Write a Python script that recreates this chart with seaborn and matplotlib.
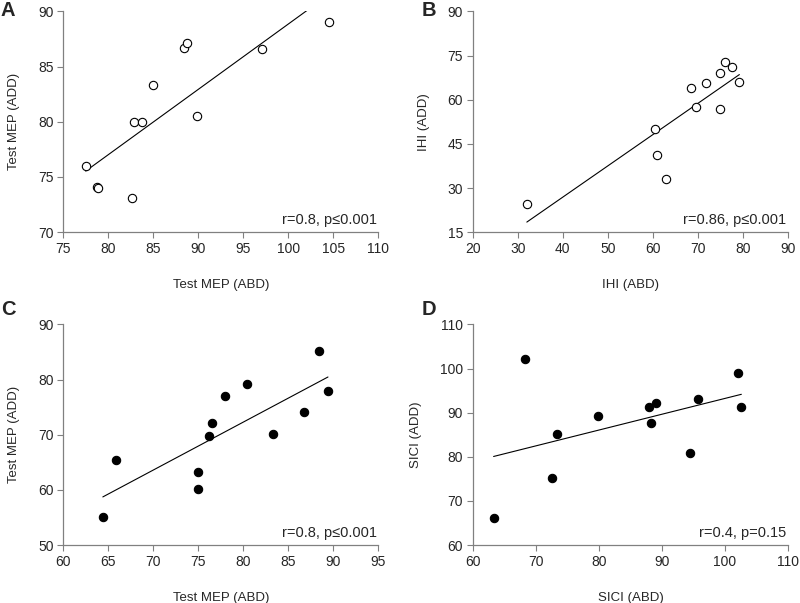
import numpy as np
import pandas as pd
import seaborn as sns
import matplotlib.pyplot as plt

# panel A: test MEP, open circles
a_x = [77.5, 78.7, 78.9, 82.6, 82.9, 83.7, 85.0, 88.4, 88.75, 89.9, 97.1, 104.55]
a_y = [76.0, 74.1, 74.0, 73.1, 80.0, 80.0, 83.3, 86.7, 87.1, 80.5, 86.6, 89.0]
# panel B: IHI, open circles
b_x = [32.0, 60.4, 60.9, 62.9, 68.5, 69.5, 71.8, 75.0, 75.0, 76.0, 77.5, 79.2]
b_y = [24.5, 50.1, 41.1, 33.1, 64.0, 57.6, 65.8, 69.1, 56.9, 72.7, 71.1, 66.1]
# panel C: test MEP, filled
c_x = [64.4, 65.9, 75.0, 74.95, 76.2, 76.5, 77.95, 80.4, 83.3, 86.7, 88.35, 89.4]
c_y = [55.1, 65.35, 63.2, 60.15, 69.7, 72.2, 77.1, 79.2, 70.2, 74.1, 85.2, 77.85]
# panel D: SICI, filled
d_x = [63.3, 68.3, 72.5, 73.4, 79.9, 88.0, 88.3, 89.1, 94.4, 95.7, 102.0, 102.6]
d_y = [66.2, 102.1, 75.2, 85.2, 89.2, 91.4, 87.6, 92.2, 80.8, 93.2, 99.1, 91.2]

panels = [
    ("A", a_x, a_y, "Test MEP (ABD)", "Test MEP (ADD)", (75, 110, 5), (70, 90, 5), "white", "r=0.8, p\u22640.001"),
    ("B", b_x, b_y, "IHI (ABD)", "IHI (ADD)", (20, 90, 10), (15, 90, 15), "white", "r=0.86, p\u22640.001"),
    ("C", c_x, c_y, "Test MEP (ABD)", "Test MEP (ADD)", (60, 95, 5), (50, 90, 10), "black", "r=0.8, p\u22640.001"),
    ("D", d_x, d_y, "SICI (ABD)", "SICI (ADD)", (60, 110, 10), (60, 110, 10), "black", "r=0.4, p=0.15"),
]

sns.set_style("ticks")
plt.rcParams['font.family'] = ['Liberation Sans', 'DejaVu Sans']

fig = plt.figure(figsize=(8.0, 6.03), dpi=100)
boxes = [(0.079, 0.615), (0.591, 0.615), (0.079, 0.096), (0.591, 0.096)]
letter_pos = [(0.001, 0.982), (0.527, 0.982), (0.001, 0.486), (0.527, 0.486)]

for (name, xs, ys, xl, yl, xr, yr, fc, note), (l, b), (lx, ly) in zip(panels, boxes, letter_pos):
    ax = fig.add_axes([l, b, 0.394, 0.366])
    df = pd.DataFrame({"x": xs, "y": ys})
    sns.regplot(data=df, x="x", y="y", ci=None, ax=ax,
                scatter_kws=dict(s=36, facecolor=fc, edgecolor="black", linewidths=0.8, alpha=1, zorder=3),
                line_kws=dict(color="black", lw=0.8, zorder=2))
    ax.set_xlim(xr[0], xr[1])
    ax.set_ylim(yr[0], yr[1])
    ax.set_xticks(np.arange(xr[0], xr[1] + 0.1, xr[2]))
    ax.set_yticks(np.arange(yr[0], yr[1] + 0.1, yr[2]))
    ax.set_xlabel(xl, fontsize=9.5, labelpad=17)
    ax.set_ylabel(yl, fontsize=9.5, labelpad=13)
    ax.tick_params(labelsize=10, length=4, width=0.8, color="#808080", pad=3)
    sns.despine(ax=ax)
    for s in ["left", "bottom"]:
        ax.spines[s].set_color("#808080")
        ax.spines[s].set_linewidth(0.9)
    ax.text(0.995, 0.025, note, transform=ax.transAxes, ha="right", va="bottom", fontsize=10.5)
    fig.text(lx, ly, name, fontsize=14.5, fontweight="bold", va="center")

fig.savefig("out.png", dpi=100)
